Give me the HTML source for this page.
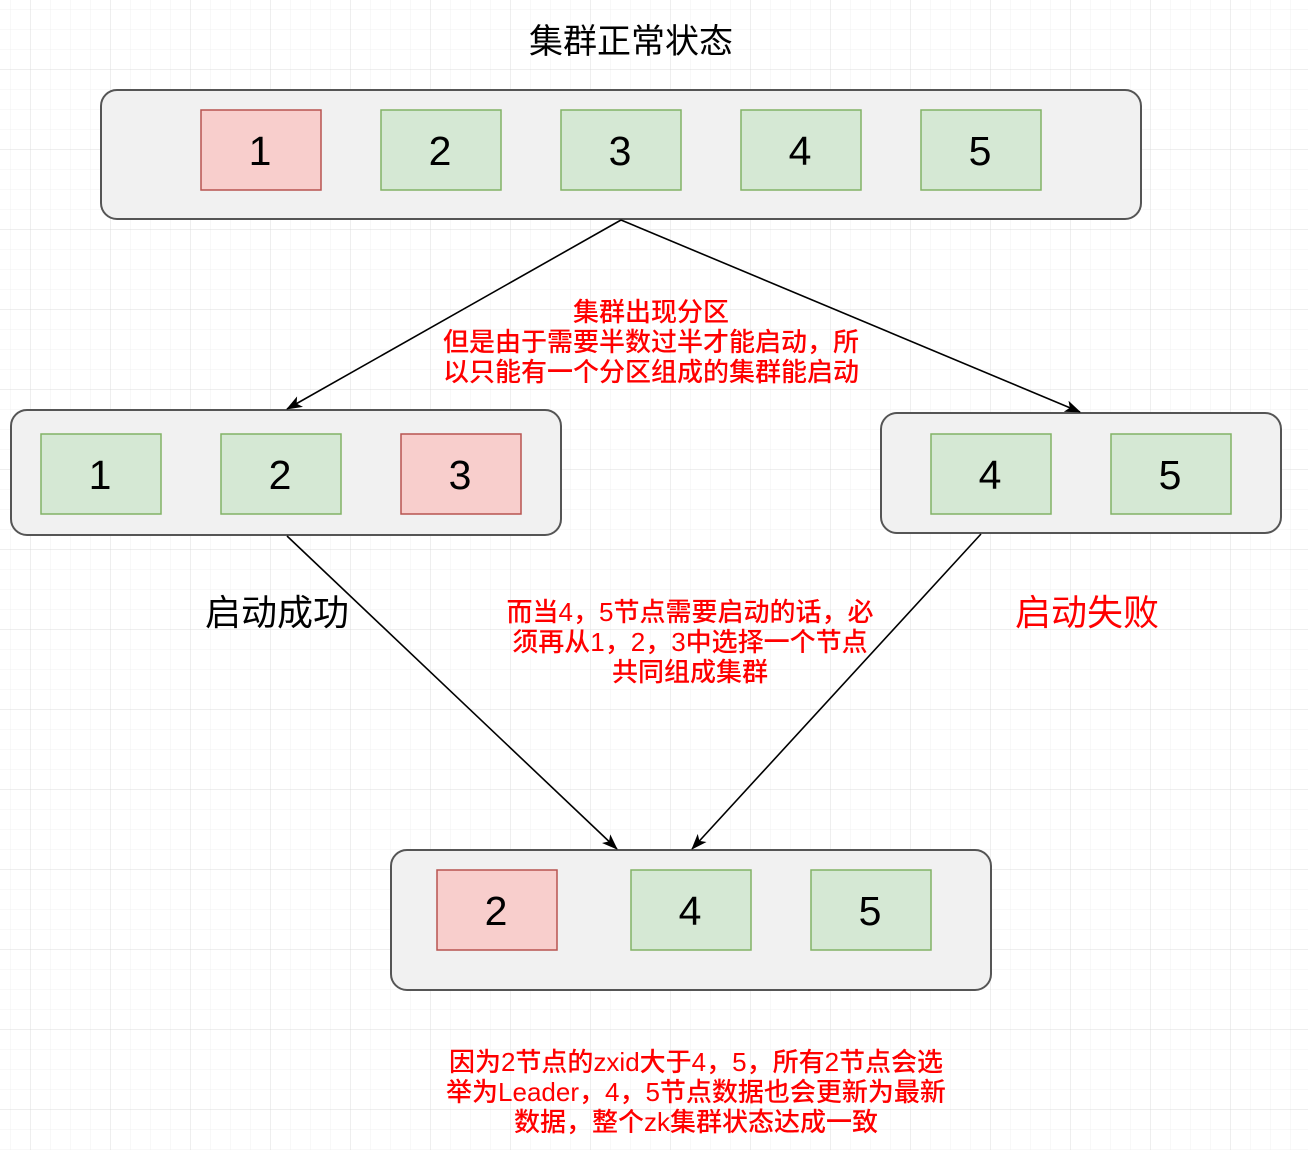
<!DOCTYPE html>
<html><head><meta charset="utf-8"><style>
html,body{margin:0;padding:0;background:#fff;}
svg{display:block;}
text{font-family:"Liberation Sans","Noto Sans CJK SC",sans-serif;}
</style></head><body>
<svg width="1308" height="1150" viewBox="0 0 1308 1150" xmlns="http://www.w3.org/2000/svg">
<defs>
<pattern id="mn" width="20" height="20" patternUnits="userSpaceOnUse" x="10" y="9">
<path d="M0 0H20M0 0V20" fill="none" stroke="#f0f0f0" stroke-width="1"/>
</pattern>
<pattern id="mj" width="80" height="80" patternUnits="userSpaceOnUse" x="30" y="69">
<path d="M0 0H80M0 0V80" fill="none" stroke="#dcdcdc" stroke-width="1"/>
</pattern>
<marker id="ar2" viewBox="0 0 16 12" refX="15" refY="6" markerWidth="16" markerHeight="12" markerUnits="userSpaceOnUse" orient="auto">
<path d="M0 0L16 6L0 12L4 6Z" fill="#000"/>
</marker>
</defs>
<rect width="1308" height="1150" fill="url(#mn)"/>
<rect width="1308" height="1150" fill="url(#mj)"/>

<text x="631" y="53" font-size="34" text-anchor="middle" fill="#000">集群正常状态</text>

<g stroke="#555" stroke-width="2" fill="#f1f1f1">
<rect x="101" y="90" width="1040" height="129" rx="16"/>
<rect x="11" y="410" width="550" height="125" rx="16"/>
<rect x="881" y="413" width="400" height="120" rx="16"/>
<rect x="391" y="850" width="600" height="140" rx="16"/>
</g>

<g stroke-width="1.5">
<rect x="201" y="110" width="120" height="80" fill="#f8cecc" stroke="#b85450"/>
<rect x="381" y="110" width="120" height="80" fill="#d5e8d4" stroke="#82b366"/>
<rect x="561" y="110" width="120" height="80" fill="#d5e8d4" stroke="#82b366"/>
<rect x="741" y="110" width="120" height="80" fill="#d5e8d4" stroke="#82b366"/>
<rect x="921" y="110" width="120" height="80" fill="#d5e8d4" stroke="#82b366"/>

<rect x="41" y="434" width="120" height="80" fill="#d5e8d4" stroke="#82b366"/>
<rect x="221" y="434" width="120" height="80" fill="#d5e8d4" stroke="#82b366"/>
<rect x="401" y="434" width="120" height="80" fill="#f8cecc" stroke="#b85450"/>

<rect x="931" y="434" width="120" height="80" fill="#d5e8d4" stroke="#82b366"/>
<rect x="1111" y="434" width="120" height="80" fill="#d5e8d4" stroke="#82b366"/>

<rect x="437" y="870" width="120" height="80" fill="#f8cecc" stroke="#b85450"/>
<rect x="631" y="870" width="120" height="80" fill="#d5e8d4" stroke="#82b366"/>
<rect x="811" y="870" width="120" height="80" fill="#d5e8d4" stroke="#82b366"/>
</g>

<g font-size="41" text-anchor="middle" fill="#000">
<text x="260" y="165">1</text><text x="440" y="165">2</text><text x="620" y="165">3</text><text x="800" y="165">4</text><text x="980" y="165">5</text>
<text x="100" y="489">1</text><text x="280" y="489">2</text><text x="460" y="489">3</text>
<text x="990" y="489">4</text><text x="1170" y="489">5</text>
<text x="496" y="925">2</text><text x="690" y="925">4</text><text x="870" y="925">5</text>
</g>

<g stroke="#000" stroke-width="1.6" fill="none">
<line x1="621" y1="220" x2="287" y2="409" marker-end="url(#ar2)"/>
<line x1="621" y1="220" x2="1080" y2="412" marker-end="url(#ar2)"/>
<line x1="287" y1="536" x2="617" y2="849" marker-end="url(#ar2)"/>
<line x1="981" y1="534" x2="692" y2="849" marker-end="url(#ar2)"/>
</g>

<g font-size="26" font-weight="500" text-anchor="middle" fill="#ff0000">
<text x="651" y="321">集群出现分区</text>
<text x="651" y="351">但是由于需要半数过半才能启动，所</text>
<text x="651" y="381">以只能有一个分区组成的集群能启动</text>

<text x="690" y="621">而当4，5节点需要启动的话，必</text>
<text x="690" y="651">须再从1，2，3中选择一个节点</text>
<text x="690" y="681">共同组成集群</text>

<text x="696" y="1071">因为2节点的zxid大于4，5，所有2节点会选</text>
<text x="696" y="1101">举为Leader，4，5节点数据也会更新为最新</text>
<text x="696" y="1131">数据，整个zk集群状态达成一致</text>
</g>

<text x="277" y="625" font-size="36" text-anchor="middle" fill="#000">启动成功</text>
<text x="1087" y="625" font-size="36" text-anchor="middle" fill="#ff0000">启动失败</text>
</svg>
</body></html>
